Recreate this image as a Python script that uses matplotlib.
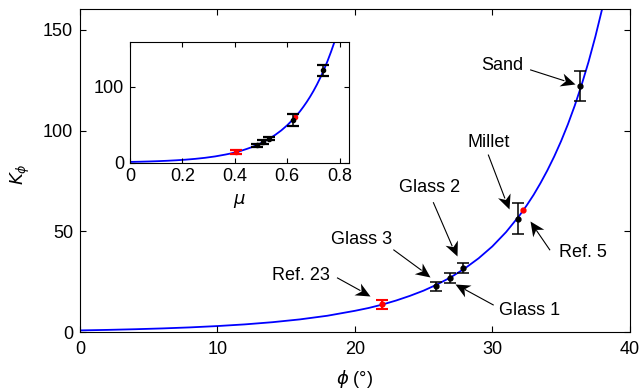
import numpy as np
import matplotlib
matplotlib.use("Agg")
import matplotlib.pyplot as plt
from matplotlib.path import Path
from matplotlib.markers import MarkerStyle
from matplotlib.transforms import Affine2D

plt.rcParams['font.family'] = ['Liberation Sans', 'DejaVu Sans']
plt.rcParams['font.size'] = 13
plt.rcParams['mathtext.fontset'] = 'dejavusans'

# curve: friction angle (deg) vs K_phi
phi_curve = [0, 2, 4, 6, 8, 10, 12, 14, 16, 18, 20, 21, 22, 23, 24, 25, 26, 27,
             28, 29, 30, 31, 32, 32.5, 33, 33.5, 34, 34.5, 35, 35.5, 36, 36.5,
             37, 37.5, 38, 38.3]
K_curve = [1.0, 1.25, 1.58, 1.98, 2.49, 3.15, 3.98, 5.06, 6.45, 8.26, 10.7, 12.1,
           13.8, 15.8, 18.1, 20.7, 23.8, 27.4, 31.7, 36.7, 42.6, 49.7, 58.1, 62.9,
           68.1, 73.9, 80.2, 87.1, 94.7, 103.1, 112.4, 122.7, 134.0, 146.6, 160.5, 170.0]

# measured points
names = ['Glass 3', 'Glass 1', 'Glass 2', 'Millet', 'Sand']
phi_pts = [25.9, 26.9, 27.9, 31.9, 36.4]
K_pts = [22.9, 27.0, 31.9, 56.3, 122.0]
K_err = [2.3, 2.3, 2.4, 7.6, 7.4]

# literature values
ref23_phi, ref23_K, ref23_err = 22.0, 14.0, 2.2
ref5_phi, ref5_K = 32.2, 60.4

# friction coefficient mu = tan(phi) for the inset
def to_mu(p):
    return np.tan(np.radians(p))

blue = '#0000ff'
red = '#ff0000'

fig = plt.figure(figsize=(6.4, 3.92), dpi=100)
ax = fig.add_axes([0.125, 0.152, 0.859, 0.824])

ax.plot(phi_curve, K_curve, color=blue, lw=1.3, zorder=1)
ax.errorbar(phi_pts, K_pts, yerr=K_err, fmt='o', color='k', ms=3.5,
            capsize=4, elinewidth=1.1, capthick=1.1, zorder=3)
ax.errorbar([ref23_phi], [ref23_K], yerr=[ref23_err], fmt='o', color=red, ms=3.5,
            capsize=4, elinewidth=1.5, capthick=1.5, zorder=3)
ax.plot([ref5_phi], [ref5_K], 'o', color=red, ms=3.5, zorder=3)

ax.set_xlim(0, 40)
ax.set_ylim(0, 160)
ax.set_xticks([0, 10, 20, 30, 40])
ax.set_yticks([0, 50, 100, 150])
ax.tick_params(direction='in', top=True, right=True, length=4, width=0.8)
ax.tick_params(axis='x', pad=6)
ax.tick_params(axis='y', pad=5)
ax.set_xlabel(r'$\phi$ (°)')
ax.set_ylabel(r'$K_\phi$')
ax.xaxis.set_label_coords(0.5, -0.11)
ax.yaxis.set_label_coords(-0.088, 0.49)

# dart-shaped arrow head, tip at the origin pointing along +x
head_path = Path([(0, 0), (-1, 0.46), (-0.7, 0), (-1, -0.46), (0, 0)],
                 [Path.MOVETO, Path.LINETO, Path.LINETO, Path.LINETO, Path.CLOSEPOLY])
head_ms = 21
head_len_px = head_ms / 2 * fig.dpi / 72

# annotations: (label, text pos, arrow tail, arrow tip)
notes = [
    ('Ref. 23', (16.1, 28.3), (18.7, 27.1), (21.1, 18.1)),
    ('Glass 3', (20.5, 45.9), (22.8, 41.0), (25.5, 27.5)),
    ('Glass 2', (25.4, 71.9), (25.7, 64.5), (27.4, 37.7)),
    ('Glass 1', (32.7, 11.0), (30.1, 13.5), (27.3, 23.9)),
    ('Ref. 5', (36.6, 39.8), (34.2, 40.7), (32.75, 55.1)),
    ('Millet', (29.7, 94.2), (29.7, 88.1), (31.2, 61.3)),
    ('Sand', (30.7, 132.0), (32.75, 130.1), (36.0, 123.0)),
]
for label, tpos, tail, tip in notes:
    ax.text(tpos[0], tpos[1], label, ha='center', va='center', fontsize=13)
    p0 = ax.transData.transform(tail)
    p1 = ax.transData.transform(tip)
    d = p1 - p0
    ang = np.degrees(np.arctan2(d[1], d[0]))
    # shaft stops inside the head notch
    u = d / np.hypot(*d)
    shaft_end = ax.transData.inverted().transform(p1 - u * head_len_px * 0.75)
    ax.plot([tail[0], shaft_end[0]], [tail[1], shaft_end[1]], color='k', lw=0.8,
            solid_capstyle='butt', zorder=4)
    ax.plot([tip[0]], [tip[1]], linestyle='none', color='k', ms=head_ms, mew=0,
            marker=MarkerStyle(head_path, transform=Affine2D().rotate_deg(ang)),
            zorder=4)

# inset
ins = fig.add_axes([0.203, 0.585, 0.342, 0.309])
ins.plot(to_mu(np.array(phi_curve)), K_curve, color=blue, lw=1.3, zorder=1)
ins.errorbar(to_mu(np.array(phi_pts)), K_pts, yerr=K_err, fmt='o', color='k', ms=3,
             capsize=4.5, elinewidth=1.1, capthick=1.6, zorder=3)
ins.errorbar([to_mu(ref23_phi)], [ref23_K], yerr=[ref23_err], fmt='o', color=red, ms=3,
             capsize=4.5, elinewidth=1.5, capthick=1.6, zorder=3)
ins.plot([to_mu(ref5_phi)], [ref5_K], 'o', color=red, ms=3, zorder=2)
ins.set_xlim(0, 0.835)
ins.set_ylim(0, 160)
ins.set_xticks([0, 0.2, 0.4, 0.6, 0.8])
ins.set_xticklabels(['0', '0.2', '0.4', '0.6', '0.8'])
ins.set_yticks([0, 100])
ins.tick_params(direction='in', top=True, right=True, length=3.5, width=0.8, pad=4)
ins.set_xlabel(r'$\mu$', labelpad=5)

fig.savefig('out.png', dpi=100)
